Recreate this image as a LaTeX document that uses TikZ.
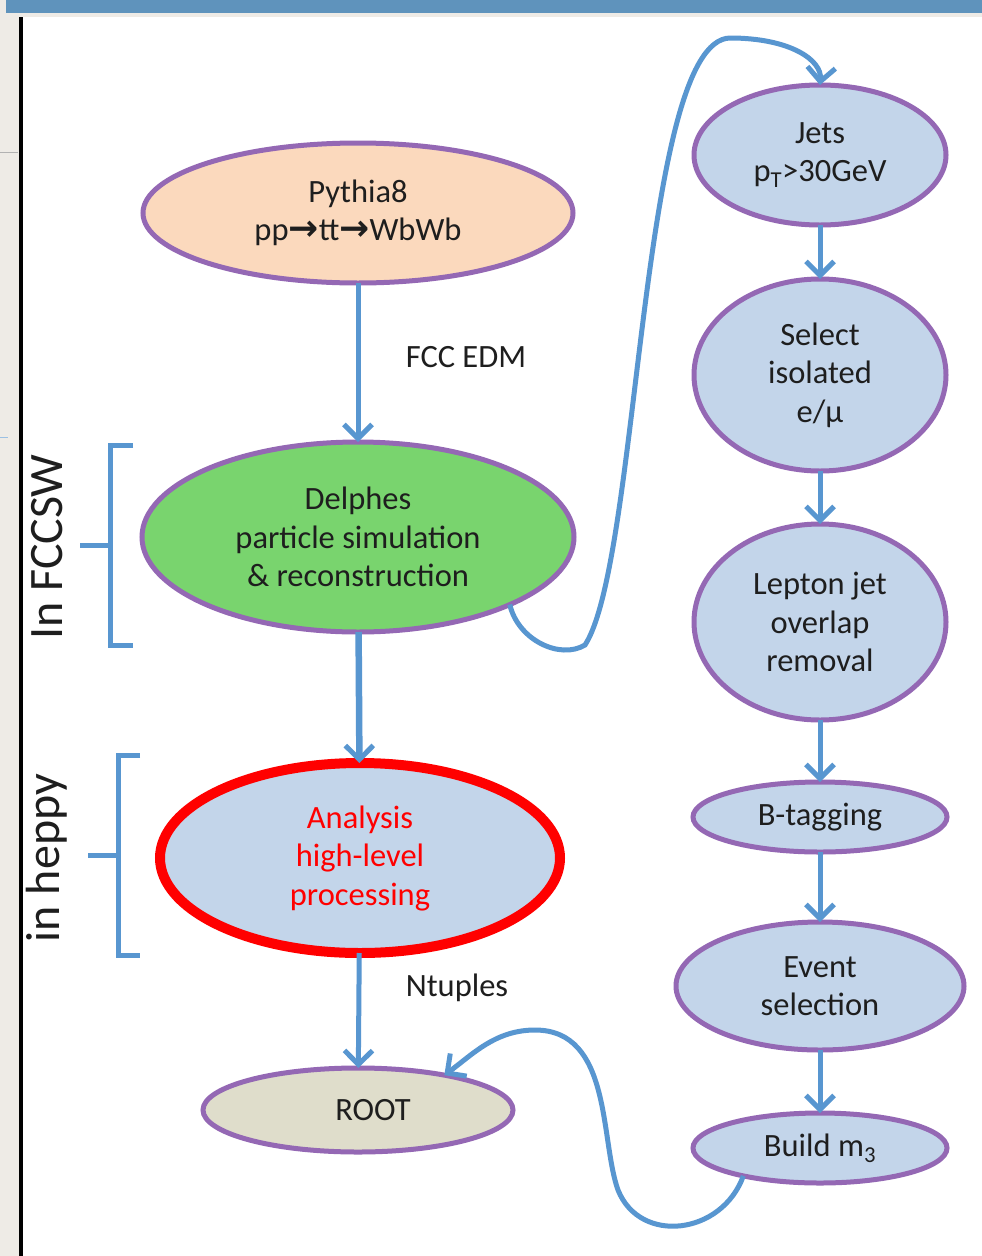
\documentclass[tikz,border=0pt]{standalone}
\usepackage{fontspec}
\setmainfont{Carlito}
\newfontfamily\dejavu{DejaVu Sans}
\usetikzlibrary{shapes.geometric,arrows.meta}
\definecolor{purp}{HTML}{9468B4}
\definecolor{lblue}{HTML}{C3D5EA}
\definecolor{peach}{HTML}{FBD9BD}
\definecolor{lgreen}{HTML}{79D46E}
\definecolor{rootfill}{HTML}{DFDDCB}
\definecolor{arrblue}{HTML}{5896D0}
\definecolor{txt}{HTML}{1E1E1E}
\definecolor{margin}{HTML}{EEEBE6}
\definecolor{strip}{HTML}{5F93BC}
\newcommand\rarr{{\dejavu\bfseries\fontsize{36}{38}\selectfont →}}
\begin{document}
\begin{tikzpicture}[x=1pt,y=-1pt,
  proc/.style={ellipse, draw=purp, line width=5pt, inner sep=0pt, outer sep=0pt,
    align=center, text=txt, font=\fontsize{32.5}{38.5}\selectfont},
  flow/.style={draw=arrblue, line width=5pt,
    -{Straight Barb[length=14pt,width=28pt,line width=5pt]}},
  brk/.style={draw=arrblue, line width=5pt},
  lbl/.style={text=txt, font=\fontsize{32.5}{38}\selectfont},
  side/.style={text=txt, font=\fontsize{48}{52}\selectfont, rotate=90}]
\useasboundingbox (0,0) rectangle (982,1256);
% screenshot frame
\fill[white] (0,0) rectangle (982,1256);
\fill[margin] (0,0) rectangle (19,1256);
\fill[margin] (19,13) rectangle (982,17);
\fill[strip] (6,0) rectangle (982,13);
\fill[black] (19,17) rectangle (23,1256);
\draw[gray!60, line width=1pt] (0,152) -- (18,152);
\draw[arrblue!60, line width=1pt] (0,437) -- (8,437);
% left nodes
\node[proc, fill=peach, minimum width=430, minimum height=140] (pyth) at (358,213)
  {Pythia8\\pp\rarr tt\rarr WbWb};
\node[proc, fill=lgreen, minimum width=432, minimum height=190] (delph) at (358,537)
  {Delphes\\particle simulation\\\& reconstruction};
\node[proc, fill=lblue, draw=red, line width=10pt, minimum width=400, minimum height=190,
  text=red] (ana) at (360,858) {Analysis\\high-level\\processing};
\node[proc, fill=rootfill, minimum width=310, minimum height=84] (root) at (358,1110)
  {\hspace*{30pt}ROOT};
% right column
\node[proc, fill=lblue, minimum width=252, minimum height=140] (jets) at (820,155)
  {Jets\\p\textsubscript{T}>30GeV};
\node[proc, fill=lblue, minimum width=252, minimum height=192] (iso) at (820,375)
  {Select\\isolated\\e/μ};
\node[proc, fill=lblue, minimum width=252, minimum height=196] (olr) at (820,622)
  {Lepton jet\\overlap\\removal};
\node[proc, fill=lblue, minimum width=254, minimum height=70] (btag) at (820,817)
  {B-tagging};
\node[proc, fill=lblue, minimum width=288, minimum height=128] (evsel) at (820,986)
  {Event\\selection};
\node[proc, fill=lblue, minimum width=254, minimum height=70] (m3) at (820,1148)
  {Build m\textsubscript{3}};
% labels
\node[lbl] (fccedm) at (466,357) {FCC EDM};
\node[lbl] (ntup) at (457,988) {Ntuples};
\node[side] (fccsw) at (47,547) {In FCCSW};
\node[side] (heppy) at (47,858) {in heppy};
% brackets
\draw[brk] (133,445) -- (110,445) -- (110,645) -- (133,645);
\draw[brk] (80,545) -- (110,545);
\draw[brk] (140,755) -- (118,755) -- (118,955) -- (140,955);
\draw[brk] (88,855) -- (118,855);
% straight arrows
\draw[flow] (pyth) -- (delph);
\draw[flow, line width=6.5pt] (delph) -- (ana);
\draw[flow] (ana) -- (root);
\draw[flow] (jets) -- (iso);
\draw[flow] (iso) -- (olr);
\draw[flow] (olr) -- (btag);
\draw[flow] (btag) -- (evsel);
\draw[flow] (evsel) -- (m3);
% curved arrows
\draw[flow] (delph.-24) .. controls (518,640) and (560,660) .. (585,645)
  .. controls (640,560) and (640,40) .. (730,38)
  .. controls (790,38) and (822,60) .. (jets.north);
\draw[flow] (m3.-160) .. controls (722,1235) and (640,1245) .. (618,1190)
  .. controls (600,1140) and (612,1030) .. (535,1030)
  .. controls (495,1030) and (472,1055) .. (root.22);
\end{tikzpicture}
\end{document}
